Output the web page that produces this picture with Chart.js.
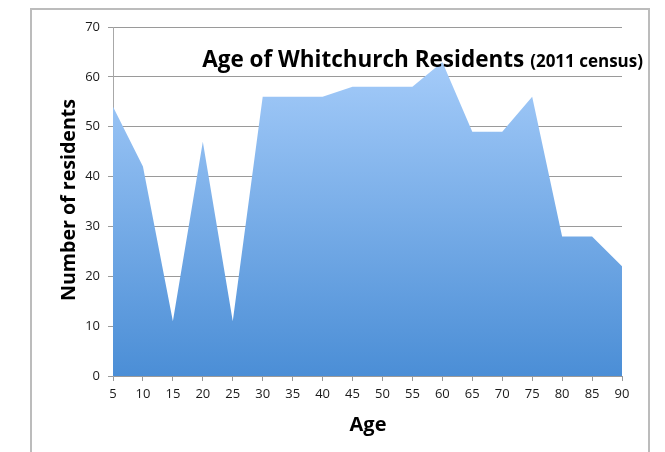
<!DOCTYPE html>
<html>
<head>
<meta charset="utf-8">
<script src="https://cdn.jsdelivr.net/npm/chart.js@4"></script>
<style>
  body { margin: 0; background: #fff; overflow: hidden; }
  #frame { position: absolute; left: 30px; top: 8px; width: 616px; height: 470px; border: 2px solid #bcbcbc; }
  #wrap { position: absolute; left: 0; top: 0; width: 665px; height: 452px; }
</style>
</head>
<body>
<div id="frame"></div>
<div id="wrap"><canvas id="ageChart" width="665" height="452"></canvas></div>
<script>
// Data
const ages = ["5", "10", "15", "20", "25", "30", "35", "40", "45", "50", "55", "60", "65", "70", "75", "80", "85", "90"];
const residents = [54, 42, 11, 47, 11, 56, 56, 56, 58, 58, 58, 63, 49, 49, 56, 28, 28, 22];
const yTicks = [0, 10, 20, 30, 40, 50, 60, 70];

const titleMain = "Age of Whitchurch Residents";
const titleSub = "(2011 census)";
const yTitle = "Number of residents";
const xTitle = "Age";

// ===========================
// Titles drawn over the chart
// ===========================
const titlesPlugin = {
  id: "titles",
  afterDraw(chart) {
    const ctx = chart.ctx;
    ctx.save();
    ctx.fillStyle = "#000";
    ctx.textBaseline = "alphabetic";

    // main title, right aligned inside the plot
    ctx.font = "bold 17px 'Open Sans'";
    ctx.textAlign = "right";
    const subW = Math.min(ctx.measureText(titleSub).width, 116);
    ctx.fillText(titleSub, 643, 67, 116);
    ctx.font = "bold 23px 'Open Sans'";
    ctx.fillText(titleMain, 643 - subW - 6, 67, 322);

    // y axis title
    ctx.save();
    ctx.translate(75, 200);
    ctx.rotate(-Math.PI / 2);
    ctx.textAlign = "center";
    ctx.font = "bold 20px 'Open Sans'";
    ctx.fillText(yTitle, 0, 0, 202);
    ctx.restore();

    // x axis title
    ctx.textAlign = "center";
    ctx.font = "bold 20px 'Open Sans'";
    ctx.fillText(xTitle, 368, 431);
    ctx.restore();
  }
};

const ctx = document.getElementById("ageChart").getContext("2d");
const areaGrad = ctx.createLinearGradient(0, 27, 0, 376);
areaGrad.addColorStop(0, "#aed2fd");
areaGrad.addColorStop(1, "#4b8ed6");

new Chart(ctx, {
  type: "line",
  data: {
    labels: ages,
    datasets: [{
      label: "Residents",
      data: residents,
      fill: "origin",
      backgroundColor: areaGrad,
      borderWidth: 0,
      pointRadius: 0,
      tension: 0
    }]
  },
  options: {
    responsive: false,
    animation: false,
    layout: { padding: { top: 27, right: 43, left: 0, bottom: 0 } },
    plugins: { legend: { display: false }, tooltip: { enabled: false } },
    scales: {
      x: {
        offset: false,
        grid: { display: true, drawOnChartArea: false, drawTicks: true, tickLength: 5, color: "#9a9a9a" },
        border: { display: true, color: "#9a9a9a" },
        ticks: { color: "#1a1a1a", font: { family: "'Open Sans'", size: 13 }, padding: 5, maxRotation: 0, autoSkip: false },
        afterFit: (scale) => { scale.height = 76; }
      },
      y: {
        min: 0,
        max: 70,
        afterBuildTicks: (scale) => { scale.ticks = yTicks.map(v => ({ value: v })); },
        grid: { color: "#9a9a9a", tickLength: 5, drawTicks: true },
        border: { display: true, color: "#a8a8a8" },
        ticks: { color: "#1a1a1a", font: { family: "'Open Sans'", size: 13 }, padding: 8 },
        afterFit: (scale) => { scale.width = 113; }
      }
    }
  },
  plugins: [titlesPlugin]
});
</script>
</body>
</html>
